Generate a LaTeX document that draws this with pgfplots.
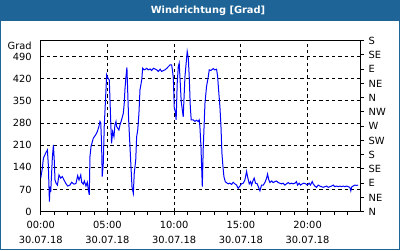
\documentclass[border=0pt]{standalone}
\usepackage{pgfplots}
\pgfplotsset{compat=1.18}
\usepackage{fontspec}
\setmainfont{DejaVu Sans}
\definecolor{tblue}{RGB}{30,100,150}
\newcommand{\lblfont}{\fontsize{7.4}{11.25}\selectfont}
\begin{document}
\begin{tikzpicture}[x=0.75pt,y=0.75pt]
\fill[white] (0,0) rectangle (400,250);
\fill[tblue] (0,229.3) rectangle (400,250);
\draw[tblue,line width=1.1pt] (0.7,0.7) rectangle (399.3,249.3);
\node[text=white,font=\bfseries\fontsize{7.4}{9}\selectfont] at (208,239.6) {Windrichtung [Grad]};
\begin{axis}[
  name=main,
  at={(30.525pt,28.725pt)}, anchor=south west,
  width=240.2pt, height=128.25pt, scale only axis,
  xmin=0, xmax=24, ymin=0, ymax=540,
  axis line style={black,line width=0.75pt},
  xtick={0,5,10,15,20},
  xticklabels={{00:00\\30.07.18},{05:00\\30.07.18},{10:00\\30.07.18},{15:00\\30.07.18},{20:00\\30.07.18}},
  minor xtick={1,2,3,4,6,7,8,9,11,12,13,14,16,17,18,19,21,22,23},
  xtick pos=bottom, ytick pos=left,
  tick align=outside,
  major tick length=2.25pt, minor tick length=2.25pt,
  xtick style={black,line width=0.75pt},
  ytick style={draw=none},
  xticklabel style={align=center,font=\lblfont,yshift=-1.5pt},
  ytick={0,70,140,210,280,350,420,490},
  yticklabel style={font=\lblfont,xshift=-1pt},
  /pgf/number format/assume math mode=true,
  xmajorgrids, ymajorgrids,
  grid style={black,line width=0.75pt,dash pattern=on 2.5pt off 2.25pt},
  clip=true,
]
\addplot[blue,line width=0.75pt,mark=none] coordinates {
(0.00,106)(0.12,137)(0.20,169)(0.37,185)(0.50,195)(0.57,148)(0.65,32)(0.70,79)(0.75,63)
(0.87,169)(0.95,211)(1.02,158)(1.07,100)(1.15,90)(1.25,84)(1.37,116)(1.50,106)(1.62,111)
(1.75,100)(1.87,90)(2.02,81)(2.19,84)(2.32,93)(2.49,87)(2.64,89)(2.77,114)(2.87,100)
(3.00,116)(3.07,93)(3.19,87)(3.27,97)(3.39,81)(3.49,93)(3.57,69)(3.64,53)(3.69,174)
(3.77,206)(3.94,232)(4.12,243)(4.24,253)(4.36,269)(4.44,285)(4.50,280)(4.56,216)(4.61,111)
(4.69,153)(4.76,269)(4.89,385)(4.94,432)(5.00,425)(5.07,420)(5.14,416)(5.26,269)(5.31,216)
(5.39,253)(5.49,237)(5.56,274)(5.64,285)(5.69,269)(5.86,258)(5.94,274)(6.06,290)(6.19,311)
(6.26,343)(6.31,385)(6.39,427)(6.46,456)(6.59,290)(6.74,163)(6.84,79)(6.94,58)(7.01,121)
(7.12,163)(7.19,237)(7.27,258)(7.36,310)(7.44,385)(7.57,416)(7.64,453)(7.75,448)(7.85,450)
(7.95,453)(8.06,448)(8.20,451)(8.31,446)(8.45,453)(8.56,451)(8.70,448)(8.81,443)(8.95,450)
(9.06,443)(9.20,446)(9.31,448)(9.45,453)(9.56,458)(9.70,464)(9.81,464)(9.87,448)(9.94,422)
(10.01,327)(10.08,317)(10.15,290)(10.23,406)(10.31,458)(10.38,469)(10.53,348)(10.68,300)
(10.81,427)(10.98,506)(11.06,485)(11.13,427)(11.21,332)(11.28,290)(11.43,290)(11.56,285)
(11.68,289)(11.80,285)(11.88,290)(11.93,269)(12.01,206)(12.11,79)(12.18,200)(12.31,343)
(12.43,396)(12.56,427)(12.63,448)(12.75,446)(12.93,452)(13.05,448)(13.18,450)(13.26,427)
(13.33,385)(13.43,332)(13.51,269)(13.58,185)(13.66,142)(13.73,111)(13.83,95)(13.88,93)
(14.05,88)(14.18,90)(14.30,86)(14.43,93)(14.55,88)(14.68,84)(14.80,74)(14.93,81)(15.05,88)
(15.18,90)(15.30,100)(15.43,127)(15.50,111)(15.63,88)(15.73,95)(15.80,84)(15.93,100)
(16.00,106)(16.10,90)(16.23,88)(16.35,74)(16.43,66)(16.55,84)(16.68,84)(16.80,92)(16.93,106)
(17.00,119)(17.10,100)(17.18,92)(17.30,97)(17.43,92)(17.55,95)(17.67,97)(17.80,92)(17.92,90)
(18.05,88)(18.17,90)(18.30,84)(18.42,88)(18.55,92)(18.67,88)(18.80,90)(18.92,88)(19.05,90)
(19.17,95)(19.25,84)(19.37,90)(19.47,84)(19.60,88)(19.72,90)(19.87,88)(19.97,84)(20.12,90)
(20.22,84)(20.35,95)(20.42,88)(20.55,81)(20.67,77)(20.80,84)(20.92,81)(21.05,79)(21.17,77)
(21.30,79)(21.42,81)(21.55,77)(21.67,79)(21.80,81)(21.92,84)(22.04,79)(22.17,81)(22.30,79)
(22.42,81)(22.54,79)(22.67,81)(22.79,79)(22.92,81)(23.04,79)(23.17,77)(23.24,66)(23.32,79)
(23.42,81)(23.54,84)(23.67,83)(23.79,84)
};
\end{axis}
\node[font=\lblfont,anchor=east] at ([xshift=-3.3pt,yshift=-3.75pt]main.north west) {Grad};
\begin{axis}[
  at={(30.525pt,28.725pt)}, anchor=south west,
  width=240.2pt, height=128.25pt, scale only axis,
  xmin=0, xmax=24, ymin=0, ymax=540,
  axis x line=none, axis y line*=right,
  axis line style={black,line width=0.75pt,-},
  ytick={0,45,...,540},
  yticklabels={N,NE,E,SE,S,SW,W,NW,N,NE,E,SE,S},
  tick align=outside, major tick length=2.25pt,
  ytick style={black,line width=0.75pt},
  yticklabel style={font=\lblfont},
]
\addplot[draw=none] coordinates {(0,0)};
\end{axis}
\end{tikzpicture}
\end{document}
